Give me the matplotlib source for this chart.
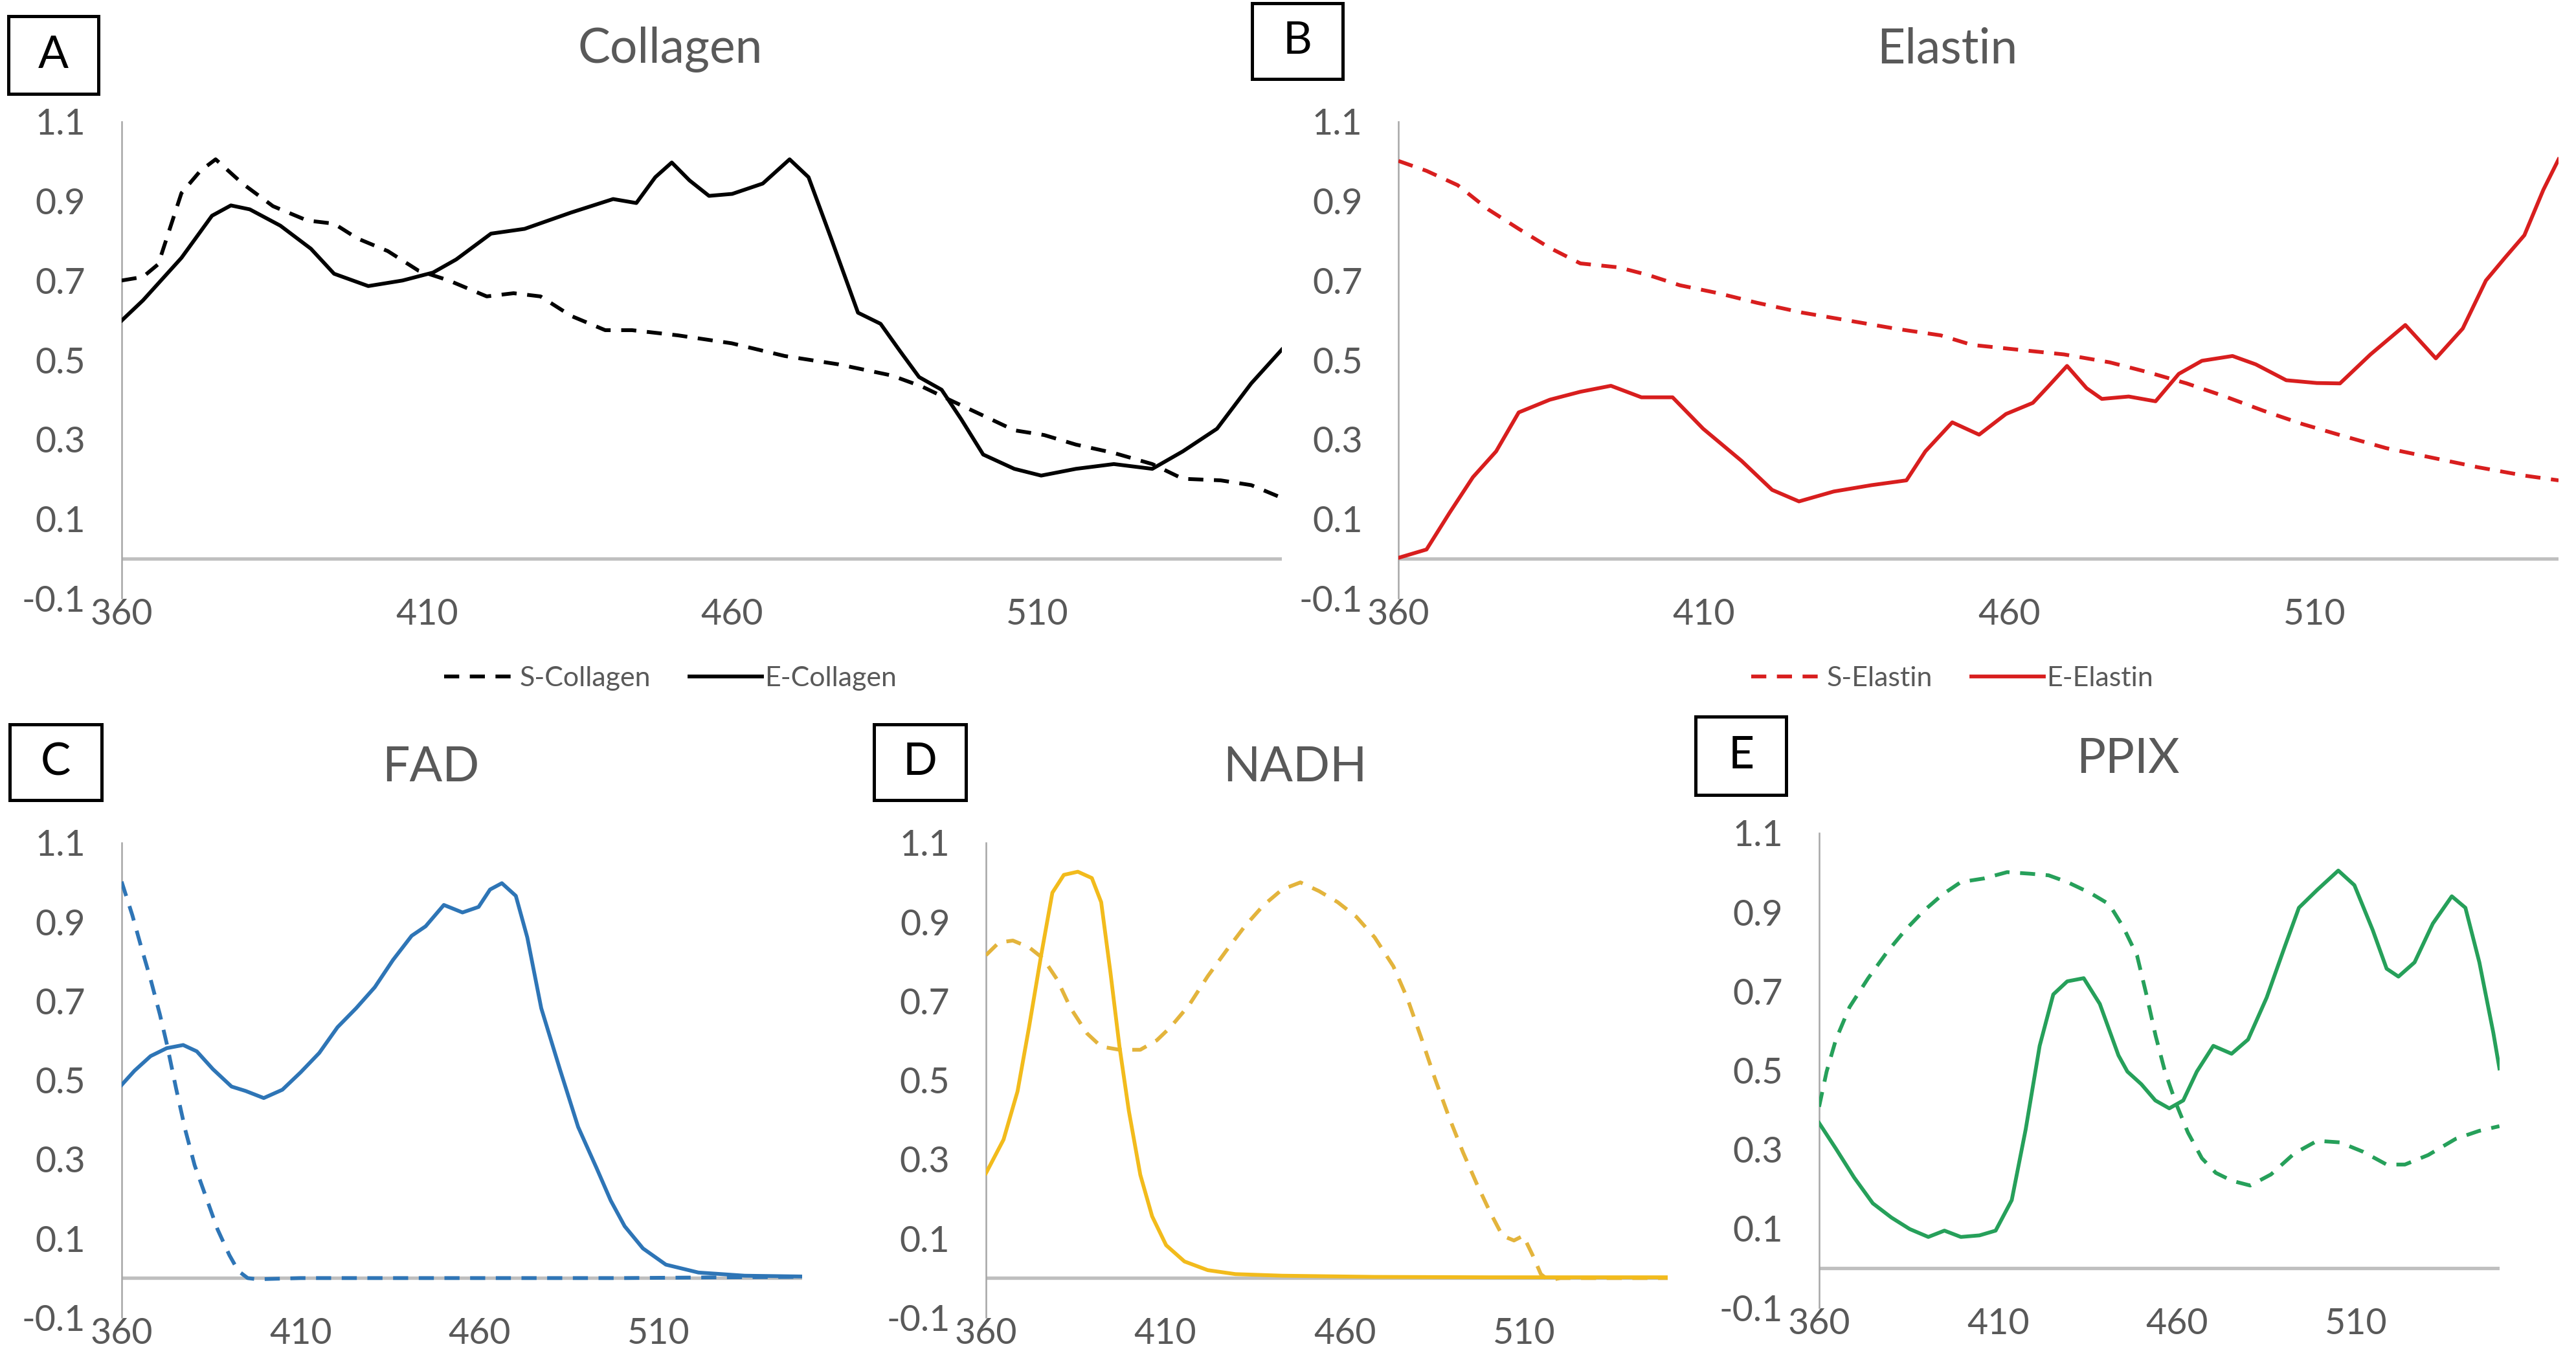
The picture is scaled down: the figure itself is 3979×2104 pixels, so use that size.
import matplotlib.pyplot as plt
import numpy as np
from matplotlib.patches import Rectangle

# ---- data (wavelength nm, normalised intensity) ----
coll_s_x = [360, 363.5, 366, 369.8, 372.9, 375.4, 379.8, 384.8, 390.4, 394.8, 398.6, 403.6, 408.6,
            413.6, 419.8, 424.2, 428.6, 433.6, 439.2, 443.6, 451.1, 459.9, 468.6, 477.4, 486.1,
            491.1, 496.1, 501.1, 506.2, 511.1, 516.3, 522.5, 528.8, 533.8, 540, 545, 550]
coll_s_y = [0.70, 0.709, 0.741, 0.92, 0.976, 1.005, 0.944, 0.887, 0.851, 0.843, 0.806, 0.774, 0.725,
            0.70, 0.66, 0.668, 0.66, 0.611, 0.575, 0.575, 0.562, 0.542, 0.51, 0.489, 0.461,
            0.433, 0.396, 0.36, 0.323, 0.311, 0.287, 0.266, 0.238, 0.201, 0.197, 0.185, 0.153]
coll_e_x = [360, 363.5, 369.8, 374.8, 377.9, 381, 386, 391, 394.8, 400.4, 406, 411, 414.8, 420.5,
            426, 433.6, 440.5, 444.3, 447.4, 450.1, 453, 456.2, 460, 465, 469.4, 472.5, 476.2,
            480.6, 484.3, 487.5, 490.6, 494.3, 497.5, 501.1, 506.2, 510.6, 516.3, 522.5, 528.8,
            533.8, 539.4, 545, 550]
coll_e_y = [0.599, 0.65, 0.757, 0.863, 0.889, 0.879, 0.838, 0.78, 0.717, 0.686, 0.70, 0.72, 0.753,
            0.818, 0.83, 0.871, 0.905, 0.895, 0.96, 0.997, 0.952, 0.913, 0.918, 0.944, 1.005, 0.96,
            0.806, 0.619, 0.591, 0.522, 0.457, 0.425, 0.351, 0.262, 0.226, 0.209, 0.226, 0.238,
            0.226, 0.27, 0.327, 0.441, 0.526]

ela_s_x = [360, 364.6, 369.7, 374.7, 379.7, 384.8, 389.8, 396.1, 401.1, 406.1, 412.4, 418.7, 426.2,
           433.8, 441.3, 448.8, 453.9, 461.4, 469, 476.5, 482.8, 489.1, 495.4, 501.7, 508, 514.2,
           521.8, 529.3, 536.8, 544.4, 550]
ela_s_y = [1.001, 0.976, 0.94, 0.879, 0.83, 0.782, 0.743, 0.733, 0.713, 0.688, 0.668, 0.644, 0.619,
           0.599, 0.579, 0.562, 0.538, 0.526, 0.514, 0.494, 0.469, 0.441, 0.408, 0.372, 0.339,
           0.311, 0.278, 0.254, 0.23, 0.209, 0.197]
ela_e_x = [360, 364.6, 368.4, 372.2, 376, 379.7, 384.8, 389.8, 394.8, 399.8, 404.9, 409.9, 416.2,
           421.2, 425.6, 431.3, 437.5, 443.2, 446.3, 450.7, 455.1, 459.5, 463.9, 466.4, 469.5,
           472.7, 475.2, 479.6, 484, 487.8, 491.6, 496.6, 500.4, 505.4, 510.4, 514.2, 519.2, 524.9,
           529.9, 534.3, 538.1, 541.2, 544.4, 547.5, 550]
ela_e_y = [0.002, 0.023, 0.116, 0.205, 0.27, 0.368, 0.40, 0.42, 0.435, 0.406, 0.406, 0.327, 0.246,
           0.173, 0.144, 0.169, 0.185, 0.197, 0.27, 0.343, 0.312, 0.364, 0.392, 0.433, 0.485,
           0.429, 0.402, 0.408, 0.396, 0.465, 0.498, 0.51, 0.489, 0.449, 0.442, 0.441, 0.514,
           0.588, 0.504, 0.579, 0.70, 0.757, 0.814, 0.928, 1.005]

fad_s_x = [360, 363, 365.5, 368.1, 370.7, 372.6, 375.2, 377.8, 380.4, 383.6, 386.8, 390.1, 392.6,
           395.2, 397.8, 410, 450, 500, 530, 550]
fad_s_y = [1.002, 0.917, 0.836, 0.755, 0.666, 0.593, 0.48, 0.374, 0.285, 0.204, 0.123, 0.058, 0.018,
           0.0, -0.003, 0.0, 0.0, 0.0, 0.002, 0.003]
fad_e_x = [360, 363.6, 368.1, 372.6, 377.2, 381, 385.5, 390.7, 394.6, 399.7, 404.9, 410, 415.2,
           420.3, 425.5, 430.7, 435.8, 441, 444.9, 450, 455.2, 459.7, 462.9, 466.2, 470.1, 473.3,
           477.2, 482.4, 487.5, 492.7, 496.6, 500.5, 505.6, 512, 521.1, 534, 550]
fad_e_y = [0.488, 0.524, 0.561, 0.581, 0.589, 0.573, 0.528, 0.484, 0.473, 0.455, 0.476, 0.52, 0.569,
           0.634, 0.682, 0.735, 0.804, 0.865, 0.889, 0.943, 0.924, 0.938, 0.982, 0.998, 0.966,
           0.861, 0.682, 0.528, 0.382, 0.277, 0.196, 0.131, 0.075, 0.034, 0.014, 0.006, 0.004]

nadh_s_x = [360, 363.6, 367.5, 372, 375.9, 379.8, 383.6, 388.2, 392.1, 397.2, 403, 407.6, 411.4,
            416.6, 421.8, 427, 432.1, 437.3, 442.5, 447.6, 452.8, 458, 463.2, 468.3, 473.5, 477.4,
            481.2, 485.1, 489, 492.9, 496.8, 500.6, 503.9, 507.1, 509.7, 512.3, 514.6, 516.8, 520,
            535, 550]
nadh_s_y = [0.816, 0.848, 0.853, 0.836, 0.808, 0.755, 0.682, 0.618, 0.585, 0.577, 0.577, 0.601,
            0.634, 0.69, 0.763, 0.828, 0.889, 0.942, 0.982, 1.0, 0.978, 0.95, 0.913, 0.861, 0.788,
            0.707, 0.609, 0.504, 0.407, 0.318, 0.237, 0.164, 0.107, 0.095, 0.107, 0.058, 0.01,
            -0.006, 0.0, 0.0, 0.0]
nadh_e_x = [360, 364.9, 368.8, 372, 375.3, 378.5, 381.7, 385.6, 389.5, 392.1, 394.7, 397.2, 399.8,
            403, 406.3, 410.2, 415.3, 421.8, 429.5, 442.5, 468.3, 500, 550]
nadh_e_y = [0.265, 0.35, 0.472, 0.634, 0.812, 0.974, 1.019, 1.027, 1.011, 0.95, 0.771, 0.585, 0.423,
            0.261, 0.156, 0.083, 0.042, 0.02, 0.01, 0.006, 0.003, 0.002, 0.002]

ppix_s_x = [360, 362.1, 364.7, 368.5, 373.7, 378.9, 384.1, 389.2, 394.4, 399.6, 406, 412.5, 419,
            424.1, 429.3, 435.8, 441, 444.9, 448.8, 451.4, 454, 456.6, 459.7, 463, 466.9, 470.8,
            475.3, 480.4, 486.2, 492.7, 499.1, 505.5, 512, 518.5, 523.6, 530.1, 537.8, 544.3, 550]
ppix_s_y = [0.408, 0.497, 0.578, 0.66, 0.733, 0.798, 0.855, 0.903, 0.944, 0.976, 0.985, 1.001, 0.997,
            0.993, 0.976, 0.948, 0.92, 0.863, 0.79, 0.692, 0.587, 0.497, 0.416, 0.343, 0.278, 0.241,
            0.221, 0.209, 0.237, 0.29, 0.322, 0.318, 0.294, 0.262, 0.262, 0.286, 0.327, 0.347, 0.359]
ppix_e_x = [360, 364.7, 369.8, 375, 380.2, 385.3, 390.5, 395, 399.6, 404.8, 409.3, 413.8, 417.7,
            421.6, 425.4, 429.3, 433.9, 438.4, 443.6, 446.1, 450, 453.9, 457.8, 461.7, 465.5, 470.1,
            475.2, 479.8, 485, 490.1, 494, 499.1, 505, 509.5, 514.6, 518.5, 521.8, 526.3, 531.4,
            536.7, 540.5, 544.4, 548.3, 550]
ppix_e_y = [0.367, 0.302, 0.229, 0.164, 0.128, 0.099, 0.079, 0.095, 0.079, 0.083, 0.095, 0.172, 0.351,
            0.562, 0.692, 0.725, 0.733, 0.668, 0.538, 0.497, 0.465, 0.424, 0.404, 0.424, 0.497, 0.562,
            0.542, 0.578, 0.684, 0.814, 0.911, 0.956, 1.005, 0.968, 0.855, 0.757, 0.737, 0.773, 0.871,
            0.94, 0.911, 0.773, 0.595, 0.505]

x_ticks = [360, 410, 460, 510]
y_ticks = [-0.1, 0.1, 0.3, 0.5, 0.7, 0.9, 1.1]
y_labels = ["-0.1", "0.1", "0.3", "0.5", "0.7", "0.9", "1.1"]

GREY = "#595959"
plt.rcParams["font.family"] = ["Lato", "DejaVu Sans"]

fig = plt.figure(figsize=(39.8, 21.04), dpi=100)
W, H = 1568.0, 829.0  # layout measured on the shrunk reference


def make_ax(x0, x1, ytop, ybot):
    ax = fig.add_axes([x0 / W, 1 - ybot / H, (x1 - x0) / W, (ybot - ytop) / H])
    ax.set_xlim(360, 550)
    ax.set_ylim(-0.1, 1.1)
    ax.set_xticks(x_ticks)
    ax.set_yticks(y_ticks)
    ax.set_yticklabels(y_labels)
    for s in ["top", "right", "bottom"]:
        ax.spines[s].set_visible(False)
    ax.spines["left"].set_color("#a6a6a6")
    ax.spines["left"].set_linewidth(1.8)
    ax.tick_params(axis="x", length=0, pad=0, labelsize=40, labelcolor=GREY)
    ax.tick_params(axis="y", length=0, pad=40, labelsize=40, labelcolor=GREY)
    ax.axhline(0, color="#bfbfbf", lw=3.8, zorder=1)
    return ax


def box_label(letter, x0, y0, x1, y1):
    fig.patches.append(Rectangle((x0 / W, 1 - y1 / H), (x1 - x0) / W, (y1 - y0) / H,
                                 transform=fig.transFigure, fill=False, ec="black", lw=3.6))
    fig.text((x0 + x1) / 2 / W, 1 - (y0 + y1) / 2 / H, letter, ha="center", va="center",
             fontsize=50, color="black")


def title(txt, xc, yc):
    fig.text(xc / W, 1 - yc / H, txt, ha="center", va="center", fontsize=54, color=GREY)


LW = 4.2
DASH = (4, 2.8)
LEG = dict(loc="center", bbox_transform=fig.transFigure, ncol=2, frameon=False, fontsize=31,
           handlelength=2.6, handletextpad=0.1, columnspacing=1.4, labelcolor=GREY)

# A - Collagen
axA = make_ax(74, 780, 74, 364.2)
axA.plot(coll_s_x, coll_s_y, color="black", lw=LW, dashes=DASH, label="S-Collagen", zorder=3)
axA.plot(coll_e_x, coll_e_y, color="black", lw=LW, label="E-Collagen", zorder=3)
axA.legend(bbox_to_anchor=(408 / W, 1 - 413 / H), **LEG)
title("Collagen", 408, 30)
box_label("A", 5, 10, 60, 57)

# B - Elastin
RED = "#d81e1e"
axB = make_ax(851, 1557, 74, 364.2)
axB.plot(ela_s_x, ela_s_y, color=RED, lw=LW, dashes=DASH, label="S-Elastin", zorder=3)
axB.plot(ela_e_x, ela_e_y, color=RED, lw=LW, label="E-Elastin", zorder=3)
axB.legend(bbox_to_anchor=(1188 / W, 1 - 413 / H), **LEG)
title("Elastin", 1185, 30)
box_label("B", 762, 2, 817, 48)

# C - FAD
BLUE = "#2e75b6"
axC = make_ax(74, 488, 513, 802)
axC.plot(fad_s_x, fad_s_y, color=BLUE, lw=LW, dashes=DASH, zorder=3)
axC.plot(fad_e_x, fad_e_y, color=BLUE, lw=LW, zorder=3)
title("FAD", 262, 467)
box_label("C", 6, 441, 62, 487)

# D - NADH
GOLD = "#f2bb1c"
axD = make_ax(600, 1015, 513, 802)
axD.plot(nadh_s_x, nadh_s_y, color="#e3b43c", lw=LW, dashes=DASH, zorder=3)
axD.plot(nadh_e_x, nadh_e_y, color=GOLD, lw=LW, zorder=3)
title("NADH", 788, 467)
box_label("D", 532, 441, 588, 487)

# E - PPIX
GREEN = "#26a05a"
axE = make_ax(1107, 1521, 507, 796)
axE.plot(ppix_s_x, ppix_s_y, color=GREEN, lw=LW, dashes=DASH, zorder=3)
axE.plot(ppix_e_x, ppix_e_y, color=GREEN, lw=LW, zorder=3)
title("PPIX", 1295, 462)
box_label("E", 1032, 436, 1087, 484)

fig.savefig("out.png", dpi=100, facecolor="white")
